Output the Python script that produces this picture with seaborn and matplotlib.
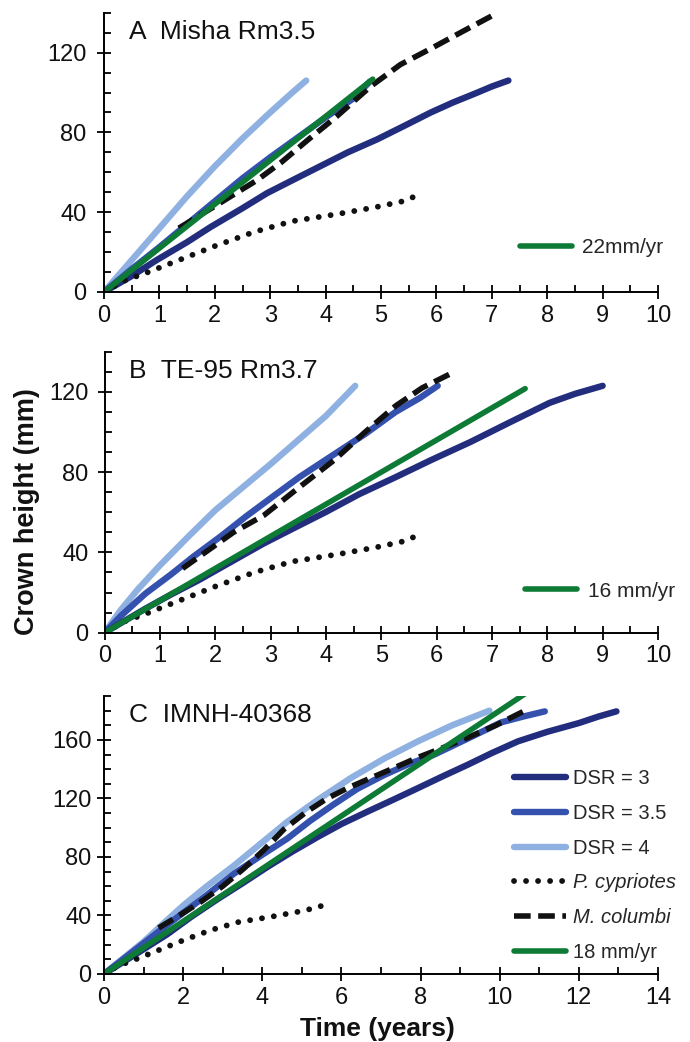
import matplotlib
matplotlib.use("Agg")
import matplotlib.pyplot as plt
from matplotlib.ticker import MultipleLocator
import seaborn as sns

# ---------------- data ----------------
# P. cypriotes growth curve (shown in every panel)
cyp_t = [0, 0.35, 0.8, 1.4, 2.0, 2.7, 3.4, 4.2, 4.9, 5.4, 5.75]
cyp_h = [0, 5.5, 10, 16.5, 23, 30, 35.5, 39, 42.5, 45.5, 49.5]

# Panel A - Misha Rm3.5
a_dsr3_t = [0, 0.5, 0.95, 1.5, 1.92, 2.5, 2.94, 3.4, 3.9, 4.4, 4.93, 5.4,
            5.9, 6.3, 6.7, 7.0, 7.3]
a_dsr3_h = [0, 8, 16, 25, 32.5, 42, 49.5, 56, 63, 70, 76.5, 83,
            90, 95, 99.5, 103, 106]
a_dsr35_t = [0, 0.5, 1, 1.5, 2, 2.5, 3, 3.5, 4, 4.5, 4.8]
a_dsr35_h = [0, 11.5, 22.5, 34, 45.5, 57, 67.5, 77.5, 87.5, 97, 105.5]
a_dsr4_t = [0, 0.5, 1, 1.5, 2, 2.5, 3, 3.2, 3.4, 3.65]
a_dsr4_h = [0, 16, 32, 48, 63, 77, 90, 95, 100, 106]
a_col_t = [1.35, 2.0, 2.76, 3.2, 3.67, 4.2, 4.81, 5.35, 5.9, 6.5, 7.04]
a_col_h = [32, 43, 56, 65, 76, 88, 103, 114, 122, 131, 139]
a_rate = 22
a_rate_t = [0, 4.85]
a_rate_label = "22mm/yr"

# Panel B - TE-95 Rm3.7
b_dsr3_t = [0, 0.74, 1.2, 1.69, 2.3, 2.88, 3.45, 3.99, 4.6, 5.26, 5.9,
            6.61, 7.3, 8.04, 8.5, 9.0]
b_dsr3_h = [0, 12, 19, 26, 35.5, 44.5, 52.5, 60, 69, 77.5, 86,
            95, 104.5, 114.5, 119, 123]
b_dsr35_t = [0, 0.3, 0.74, 1.2, 1.61, 2.1, 2.56, 3.05, 3.52, 4.1, 4.71,
             5.26, 5.7, 6.02]
b_dsr35_h = [0, 8.5, 19.5, 29, 38, 48, 58, 68, 77.5, 88, 99,
             110, 117, 123]
b_dsr4_t = [0, 0.3, 0.6, 1.0, 1.5, 2.0, 2.5, 3.0, 3.5, 4.0, 4.53]
b_dsr4_h = [0, 11.5, 21.5, 33.5, 47.5, 61, 72.5, 84, 96, 108, 123]
b_col_t = [1.41, 2.33, 2.88, 3.52, 4.15, 4.71, 5.26, 5.74, 6.25]
b_col_h = [32, 50, 58.5, 72.5, 86, 100, 113, 122, 129]
b_rate = 16
b_rate_t = [0, 7.6]
b_rate_label = "16 mm/yr"

# Panel C - IMNH-40368
c_dsr3_t = [0, 0.8, 1.59, 2.2, 2.86, 3.5, 4.12, 4.75, 5.39, 6.0, 6.66,
            7.3, 7.93, 8.55, 9.19, 9.8, 10.46, 11.2, 12.0, 12.5, 12.95]
c_dsr3_h = [0, 13.5, 27, 39, 51, 62, 73, 83.5, 93.5, 102.5, 111,
            119, 127, 135, 143, 151, 159, 165.5, 171.5, 176, 179.5]
c_dsr35_t = [0, 0.5, 1, 1.5, 2.01, 2.6, 3.28, 4.0, 4.63, 5.2, 5.81,
             6.4, 7.08, 7.7, 8.35, 9.2, 10.04, 10.6, 11.14]
c_dsr35_h = [0, 10.5, 21, 31.5, 42, 54, 68.5, 81.5, 92.5, 104.5, 116,
             126.5, 136, 143.5, 150, 161, 172, 176, 179.5]
c_dsr4_t = [0, 0.5, 1, 1.5, 2.01, 2.6, 3.28, 4.0, 4.63, 5.4, 6.24,
            7.1, 7.93, 8.8, 9.74]
c_dsr4_h = [0, 11, 22, 34.5, 47, 60, 74, 90, 104, 119, 134,
            147.5, 159, 170, 180]
c_col_t = [1.38, 1.9, 2.43, 3.0, 3.53, 4.05, 4.55, 5.1, 5.64, 6.15, 6.66,
           7.3, 7.93, 8.55, 9.19, 9.9, 10.6]
c_col_h = [31.5, 40, 49, 60, 72, 85, 99, 110.5, 120, 127, 133,
           140.5, 148, 154.5, 161.5, 170, 179.5]
c_rate = 18
c_rate_t = [0, 10.7]
c_rate_label = "18 mm/yr"

panel_titles = ["A  Misha Rm3.5", "B  TE-95 Rm3.7", "C  IMNH-40368"]
legend_labels = ["DSR = 3", "DSR = 3.5", "DSR = 4", "P. cypriotes", "M. columbi"]
y_label = "Crown height (mm)"
x_label = "Time (years)"

# ---------------- style ----------------
sns.set_theme(style="ticks")
plt.rcParams["font.family"] = ["Liberation Sans", "DejaVu Sans"]
plt.rcParams["axes.linewidth"] = 1.4

C_DSR3 = "#222d7d"
C_DSR35 = "#3451ae"
C_DSR4 = "#8fb1e2"
C_GREEN = "#0d7a35"
C_BLACK = "#111111"

LW_DSR = 4.6
LW_RATE = 4.0
LW_DOT = 4.2
LW_DASH = 4.0
DOTTED = (0, (0.01, 2.05))
DASHED = (0, (3.0, 1.35))

W, H = 690, 1042
fig = plt.figure(figsize=(W / 100, H / 100), dpi=100)


def box(left, top, right, bottom):
    return [left / W, 1 - bottom / H, (right - left) / W, (bottom - top) / H]


ax_a = fig.add_axes(box(104, 12.7, 658, 292))
ax_b = fig.add_axes(box(104.5, 351.7, 658, 632.7))
ax_c = fig.add_axes(box(104, 696, 658, 974))


def draw_panel(ax, dsr3, dsr35, dsr4, col, rate, rate_t, rate_label):
    sns.lineplot(x=dsr4[0], y=dsr4[1], ax=ax, color=C_DSR4, lw=LW_DSR,
                 estimator=None, sort=False, solid_capstyle="round",
                 solid_joinstyle="round", label=legend_labels[2])
    sns.lineplot(x=dsr35[0], y=dsr35[1], ax=ax, color=C_DSR35, lw=LW_DSR,
                 estimator=None, sort=False, solid_capstyle="round",
                 solid_joinstyle="round", label=legend_labels[1])
    sns.lineplot(x=dsr3[0], y=dsr3[1], ax=ax, color=C_DSR3, lw=LW_DSR,
                 estimator=None, sort=False, solid_capstyle="round",
                 solid_joinstyle="round", label=legend_labels[0])
    sns.lineplot(x=cyp_t, y=cyp_h, ax=ax, color=C_BLACK, lw=LW_DOT,
                 estimator=None, sort=False, linestyle=DOTTED,
                 dash_capstyle="round", label=legend_labels[3])
    sns.lineplot(x=col[0], y=col[1], ax=ax, color=C_BLACK, lw=LW_DASH,
                 estimator=None, sort=False, linestyle=DASHED,
                 dash_capstyle="butt", label=legend_labels[4])
    rate_h = [rate * t for t in rate_t]
    sns.lineplot(x=rate_t, y=rate_h, ax=ax, color=C_GREEN, lw=LW_RATE,
                 estimator=None, sort=False, solid_capstyle="round",
                 label=rate_label)
    ax.get_legend().remove()
    sns.despine(ax=ax)
    ax.set_xlabel("")
    ax.set_ylabel("")


draw_panel(ax_a, (a_dsr3_t, a_dsr3_h), (a_dsr35_t, a_dsr35_h),
           (a_dsr4_t, a_dsr4_h), (a_col_t, a_col_h), a_rate, a_rate_t,
           a_rate_label)
draw_panel(ax_b, (b_dsr3_t, b_dsr3_h), (b_dsr35_t, b_dsr35_h),
           (b_dsr4_t, b_dsr4_h), (b_col_t, b_col_h), b_rate, b_rate_t,
           b_rate_label)
draw_panel(ax_c, (c_dsr3_t, c_dsr3_h), (c_dsr35_t, c_dsr35_h),
           (c_dsr4_t, c_dsr4_h), (c_col_t, c_col_h), c_rate, c_rate_t,
           c_rate_label)

# axis limits and ticks
for ax, xmax, xmaj, ymax, ypad in [(ax_a, 10, 1, 140, 7.5),
                                   (ax_b, 10, 1, 140, 6.5),
                                   (ax_c, 14, 2, 190, 4)]:
    ax.set_xlim(0, xmax)
    ax.set_ylim(0, ymax)
    ax.xaxis.set_major_locator(MultipleLocator(xmaj))
    ax.xaxis.set_minor_locator(MultipleLocator(xmaj / 2))
    ax.yaxis.set_major_locator(MultipleLocator(40))
    ax.yaxis.set_minor_locator(MultipleLocator(10))
    ax.tick_params(which="major", direction="inout", length=10, width=1.3,
                   labelsize=17, color="black", labelcolor="#111111")
    ax.tick_params(which="minor", direction="in", length=5, width=1.3,
                   color="black")
    ax.tick_params(axis="x", which="major", pad=4)
    ax.tick_params(axis="y", which="major", pad=ypad)
    for s in ("left", "bottom"):
        ax.spines[s].set_color("black")
    ax.set_facecolor("white")

# panel titles
for ax, title in zip([ax_a, ax_b, ax_c], panel_titles):
    ax.text(0.045, 0.93, title, transform=ax.transAxes, fontsize=19,
            va="center", ha="left", color="#111111")

# single-entry legends for the growth-rate line
for ax, x0, y0 in [(ax_a, 0.75, 0.159), (ax_b, 0.76, 0.148)]:
    green = ax.get_lines()[-1]
    ax.legend(handles=[green], loc="center left", bbox_to_anchor=(x0, y0),
              frameon=False, fontsize=15, handlelength=2.5,
              handletextpad=0.5, borderpad=0, borderaxespad=0)

# full legend in panel C
lines_c = ax_c.get_lines()
order = [2, 1, 0, 3, 4, 5]
leg = ax_c.legend(handles=[lines_c[i] for i in order], loc="center left",
                  bbox_to_anchor=(0.74, 0.39), frameon=False, fontsize=14.5,
                  handlelength=2.6, handletextpad=0.35, borderpad=0,
                  borderaxespad=0, labelspacing=0.78)
for txt in leg.get_texts():
    if txt.get_text() in ("P. cypriotes", "M. columbi"):
        txt.set_fontstyle("italic")

# shared axis labels
fig.text(27 / W, 1 - 512 / H, y_label, rotation=90, ha="center", va="center",
         fontsize=19.5, fontweight="bold", color="#111111")
fig.text(377 / W, 1 - 1036 / H, x_label, ha="center", va="baseline",
         fontsize=19, fontweight="bold", color="#111111")

fig.savefig("out.png", dpi=100, facecolor="white")
